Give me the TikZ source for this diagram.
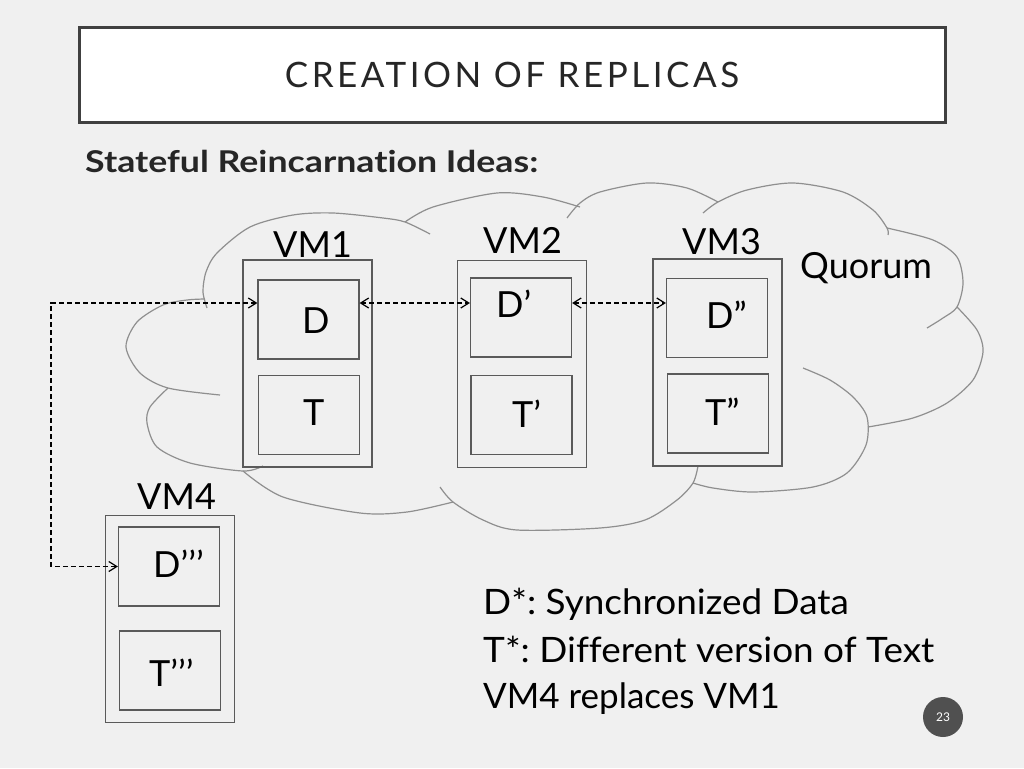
\documentclass[tikz,border=0pt]{standalone}
\usepackage{fontspec}
\setmainfont{Lato}[Ligatures=NoCommon]
\usetikzlibrary{arrows.meta}
\definecolor{bg}{HTML}{F0F0F0}
\definecolor{cloudc}{HTML}{8F8F8F}
\definecolor{boxc}{HTML}{5A5A5A}
\definecolor{titleb}{HTML}{404040}
\definecolor{txtc}{HTML}{262626}
\definecolor{pgc}{HTML}{505050}
\frenchspacing
\begin{document}
\begin{tikzpicture}[x=1pt,y=-1pt,
  cloudline/.style={draw=cloudc,line width=1.2pt},
  outerbox/.style={draw=boxc,line width=1.2pt,inner sep=0pt,minimum width=129pt,minimum height=207pt},
  innerbox/.style={draw=boxc,line width=1.2pt,inner sep=0pt,minimum width=101pt,minimum height=79pt},
  lbl/.style={inner sep=0pt,anchor=base west,font=\fontsize{36}{40}\selectfont},
  note/.style={inner sep=0pt,anchor=base west,font=\fontsize{35}{40}\selectfont\addfontfeatures{FakeStretch=1.055}},
  link/.style={draw=black,line width=1.2pt,dash pattern=on 5pt off 3pt,{Straight Barb[length=8pt,width=10pt]}-{Straight Barb[length=8pt,width=10pt]}}
]
\useasboundingbox (0,0) rectangle (1024,768);
\fill[bg] (0,0) rectangle (1024,768);

% title
\node[draw=titleb,fill=white,line width=3pt,minimum width=866pt,minimum height=94pt,inner sep=0pt,
  text=txtc,font=\fontsize{35}{40}\selectfont\addfontfeatures{LetterSpace=10}] (title) at (512,75) {CREATION OF REPLICAS};

\node[inner sep=0pt,anchor=base west,text=txtc,font=\fontsize{30}{34}\selectfont\bfseries\addfontfeatures{FakeStretch=1.19}] (head) at (85,172) {Stateful Reincarnation Ideas:};

% cloud
\draw[cloudline] plot[smooth] coordinates {(207,308) (203,292) (206,272) (217,253) (250,227) (293,215) (333,213) (383,218) (405,222) (430,234)};
\draw[cloudline] plot[smooth] coordinates {(405,222) (433,207) (497,193) (543,197) (580,207)};
\draw[cloudline] plot[smooth] coordinates {(567,218) (580,203) (600,192) (647,183) (687,188) (718,202)};
\draw[cloudline] plot[smooth] coordinates {(703,213) (718,202) (747,190) (793,183) (843,192) (873,210) (887,228) (888,235)};
\draw[cloudline] plot[smooth] coordinates {(887,228) (933,240) (957,257) (963,283) (957,307) (943,318) (927,328)};
\draw[cloudline] plot[smooth] coordinates {(957,307) (977,330) (983,352) (973,380) (947,403) (913,418) (868,427)};
\draw[cloudline] plot[smooth] coordinates {(803,368) (830,380) (853,397) (867,417) (866,445) (847,473) (813,487) (753,492) (713,488) (693,483)};
\draw[cloudline] plot[smooth] coordinates {(698,466) (693,483) (677,500) (645,520) (600,528) (517,530) (483,520) (453,502) (440,487)};
\draw[cloudline] plot[smooth] coordinates {(243,471) (283,497) (360,513) (407,512) (453,502)};
\draw[cloudline] plot[smooth] coordinates {(263,466) (243,471) (190,463) (157,447) (147,423) (150,407) (168,388)};
\draw[cloudline] plot[smooth] coordinates {(220,395) (168,388) (140,373) (126,347) (137,322) (163,305) (187,300) (205,299)};

% VM boxes
\node[outerbox] (vm1) at (307.5,363.5) {};
\node[outerbox] (vm2) at (522,364) {};
\node[outerbox] (vm3) at (717.5,362.5) {};
\node[outerbox] (vm4) at (170,619) {};

\node[innerbox] (d1) at (308.5,319.5) {};
\node[innerbox] (t1) at (309,415) {};
\node[innerbox] (d2) at (521,317.5) {};
\node[innerbox] (t2) at (521.5,415) {};
\node[innerbox] (d3) at (717,318) {};
\node[innerbox] (t3) at (718,413.5) {};
\node[innerbox] (d4) at (169,566.5) {};
\node[innerbox] (t4) at (170,670.5) {};

% labels
\node[lbl] (l1) at (273,257) {VM1};
\node[lbl] (l2) at (483,253) {VM2};
\node[lbl] (l3) at (682,254) {VM3};
\node[lbl] (l4) at (137,509) {VM4};
\node[lbl] (q) at (800,278) {Quorum};

\node[lbl] (xd1) at (302,333) {D};
\node[lbl] (xt1) at (303,425) {T};
\node[lbl] (xd2) at (496,317) {D’};
\node[lbl] (xt2) at (512,427) {T’};
\node[lbl] (xd3) at (706,328) {D”};
\node[lbl] (xt3) at (705,425) {T”};
\node[lbl] (xd4) at (153,577) {D’’’};
\node[lbl] (xt4) at (149,686) {T’’’};

% connectors
\coordinate (yl) at (0,303);
\coordinate (lx) at (51,0);
\draw[link] (d1.west |- yl) -- (lx |- yl) -- (lx |- d4.west) -- (d4.west);
\draw[link] (d1.east |- yl) -- (d2.west |- yl);
\draw[link] (d2.east |- yl) -- (d3.west |- yl);

% notes
\node[note] (n1) at (483,614) {D*: Synchronized Data};
\node[note] (n2) at (483,662) {T*: Different version of Text};
\node[note,font=\fontsize{35}{40}\selectfont] (n3) at (483,708) {VM4 replaces VM1};

% page number
\node[circle,fill=pgc,minimum size=40pt,inner sep=0pt,text=white,font=\fontsize{12}{14}\selectfont] (pg) at (943,717) {23};
\end{tikzpicture}
\end{document}
